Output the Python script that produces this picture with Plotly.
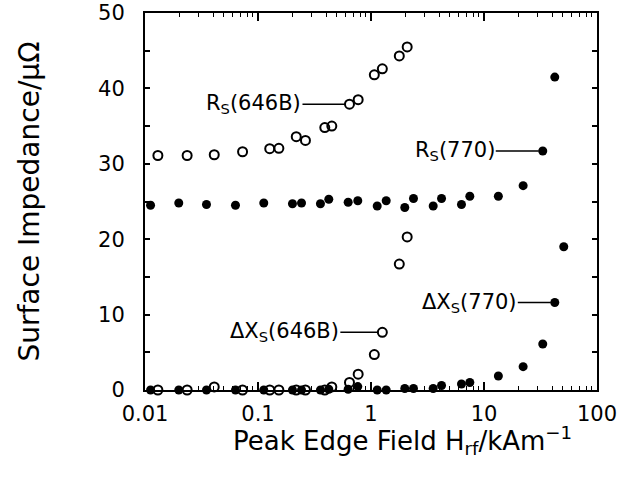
import math
import plotly.graph_objects as go

# Sample 646B (open circles)
x_646b = [0.013, 0.0236, 0.041, 0.073, 0.127, 0.153, 0.218, 0.263, 0.39, 0.45,
          0.645, 0.77, 1.07, 1.26, 1.78, 2.09]
rs_646b = [31.1, 31.1, 31.2, 31.6, 32.0, 32.05, 33.6, 33.1, 34.8, 35.0,
           37.9, 38.5, 41.8, 42.6, 44.3, 45.5]
dx_646b = [0.0, 0.0, 0.4, 0.0, 0.0, 0.0, 0.0, 0.0, 0.0, 0.4,
           1.0, 2.1, 4.7, 7.65, 16.7, 20.3]

# Sample 770 (filled circles)
x_770 = [0.0112, 0.0199, 0.035, 0.0632, 0.1125, 0.2018, 0.2427, 0.357, 0.423, 0.628,
         0.764, 1.135, 1.363, 1.99, 2.377, 3.55, 4.21, 6.32, 7.49, 13.4,
         22.2, 33.1, 42.3, 50.8]
rs_770 = [24.5, 24.8, 24.6, 24.5, 24.8, 24.7, 24.8, 24.7, 25.3, 24.9,
          25.1, 24.4, 25.1, 24.2, 25.4, 24.4, 25.4, 24.6, 25.7, 25.7,
          27.1, 31.7, 41.5, None]
dx_770 = [0.0, 0.0, 0.0, 0.0, 0.0, 0.0, 0.0, 0.0, 0.1, 0.1,
          0.45, 0.0, 0.0, 0.2, 0.2, 0.2, 0.6, 0.8, 1.0, 1.85,
          3.1, 6.1, 11.6, 19.0]

x_tickvals = [0.01, 0.1, 1, 10, 100]
x_ticktext = ["0.01", "0.1", "1", "10", "100"]
x_minor = [m * 10.0 ** e for e in range(-2, 2) for m in range(2, 10)]
y_tickvals = [0, 10, 20, 30, 40, 50]
y_ticktext = ["0", "10", "20", "30", "40", "50"]

FONT = "DejaVu Sans"
open_marker = dict(symbol="circle-open", size=9, color="black", line=dict(width=2, color="black"))
fill_marker = dict(symbol="circle", size=9, color="black")

fig = go.Figure()
fig.add_trace(go.Scatter(x=x_646b, y=rs_646b, mode="markers", marker=open_marker, cliponaxis=False))
fig.add_trace(go.Scatter(x=x_646b, y=dx_646b, mode="markers", marker=open_marker, cliponaxis=False))
fig.add_trace(go.Scatter(x=x_770, y=rs_770, mode="markers", marker=fill_marker, cliponaxis=False))
fig.add_trace(go.Scatter(x=x_770, y=dx_770, mode="markers", marker=fill_marker, cliponaxis=False))

labels = [
    ("R<sub>S</sub>(646B)", x_646b[10], rs_646b[10], -47),
    ("R<sub>S</sub>(770)", x_770[21], rs_770[21], -47),
    ("ΔX<sub>S</sub>(646B)", x_646b[13], dx_646b[13], -42),
    ("ΔX<sub>S</sub>(770)", x_770[22], dx_770[22], -37),
]
for txt, xv, yv, ax in labels:
    fig.add_annotation(x=math.log10(xv), y=yv, xref="x", yref="y", text=txt, showarrow=True,
                       ax=ax, ay=0, axref="pixel", ayref="pixel", xanchor="right",
                       yanchor="middle", arrowhead=0, arrowwidth=1.5, arrowcolor="black",
                       standoff=4, startstandoff=0, borderpad=0,
                       font=dict(family=FONT, size=21, color="black"))

# x-axis title (placed slightly right of centre, as in the original)
fig.add_annotation(text="Peak Edge Field H<sub>rf</sub>/kAm<sup>−1</sup>",
                   xref="paper", yref="paper", x=0.57, y=-0.135,
                   xanchor="center", yanchor="middle", showarrow=False,
                   font=dict(family=FONT, size=26, color="black"))

fig.update_layout(
    width=634, height=491,
    margin=dict(l=145, r=37, t=13, b=101),
    paper_bgcolor="white", plot_bgcolor="white",
    showlegend=False,
    font=dict(family=FONT, size=21, color="black"),
    xaxis=dict(type="log", range=[-2, 2], tickvals=x_tickvals, ticktext=x_ticktext,
               ticks="inside", ticklen=8, tickwidth=1.5, tickcolor="black",
               showline=True, linewidth=2, linecolor="black", mirror="allticks",
               showgrid=False, zeroline=False, automargin=False, ticklabelstandoff=4,
               ticklabeloverflow="allow",
               minor=dict(tickvals=x_minor, ticks="inside", ticklen=4, tickwidth=1.2,
                          tickcolor="black", showgrid=False)),
    yaxis=dict(range=[0, 50], tickvals=y_tickvals, ticktext=y_ticktext,
               ticks="inside", ticklen=5, tickwidth=1.5,
               tickcolor="black", showline=True, linewidth=2, linecolor="black",
               mirror="allticks", showgrid=False, zeroline=False, ticklabelstandoff=14,
               automargin=False, ticklabeloverflow="allow",
               minor=dict(dtick=5, ticks="inside", ticklen=5, tickwidth=1.5,
                          tickcolor="black", showgrid=False),
               title=dict(text="Surface Impedance/μΩ", font=dict(size=28), standoff=50)),
)

fig.write_html("out.html", config={"displayModeBar": False},
               post_script="document.body.style.margin='0px';")
